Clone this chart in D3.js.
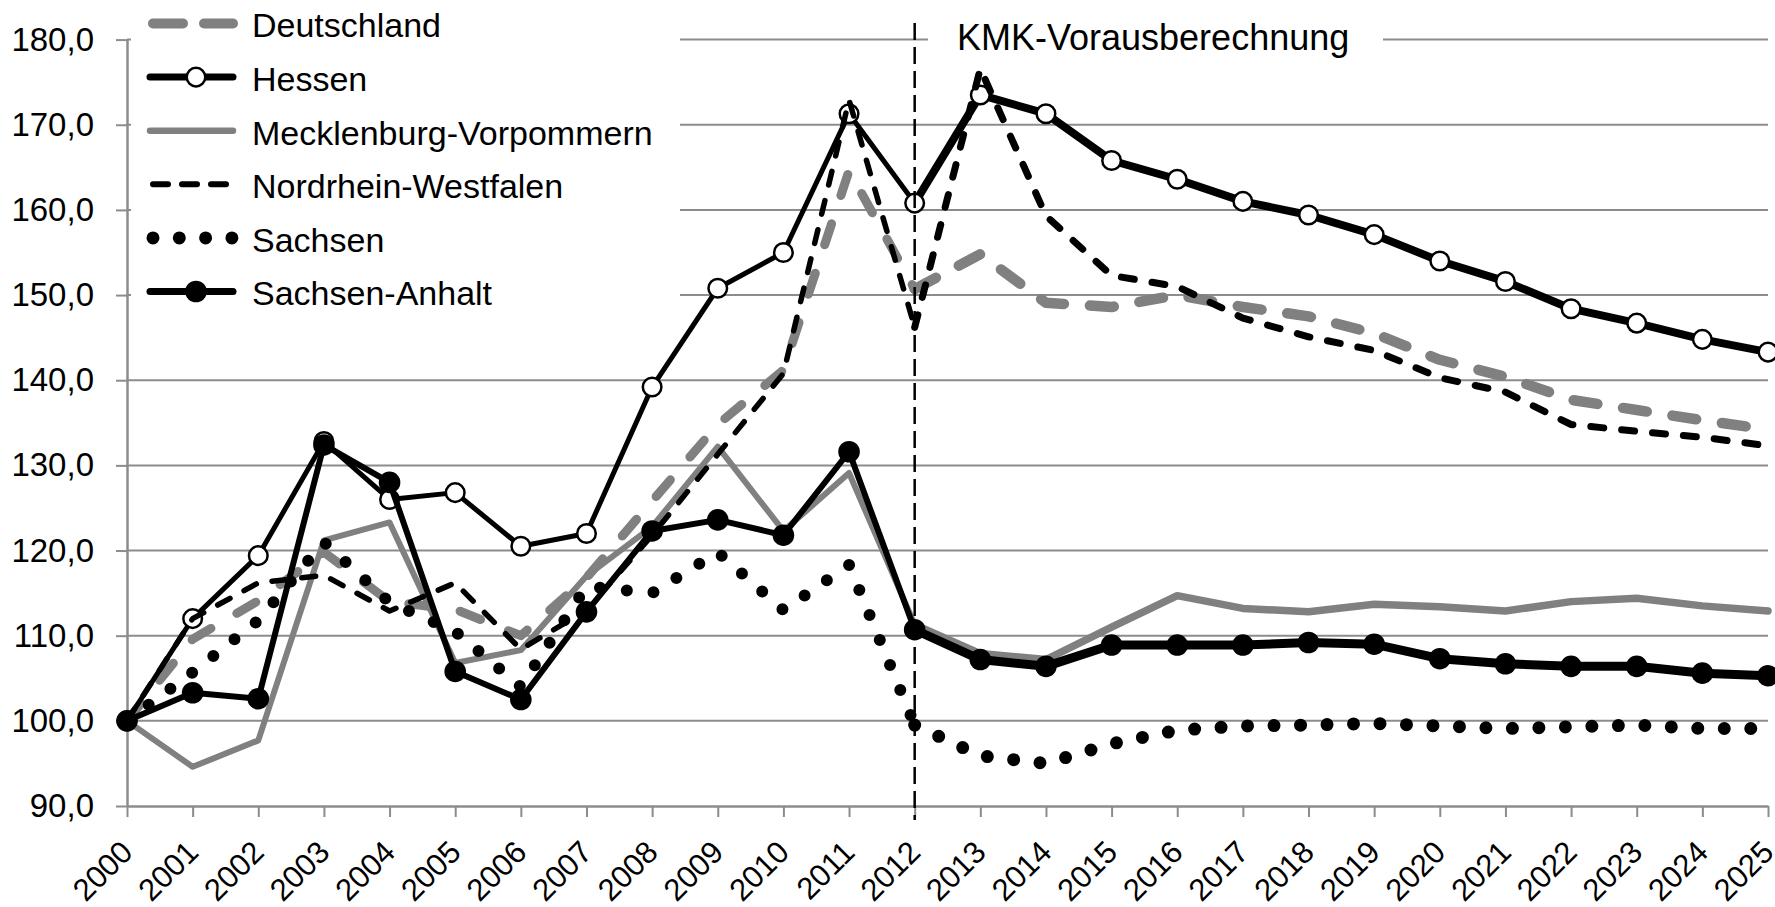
<!DOCTYPE html>
<html>
<head>
<meta charset="utf-8">
<script src="https://cdnjs.cloudflare.com/ajax/libs/d3/7.8.5/d3.min.js"></script>
<style>
body { margin: 0; background: #fff; }
svg { display: block; font-family: "Liberation Sans", Arial, sans-serif; }
</style>
</head>
<body>
<div id="chart"></div>
<script>
// categories / ticks
var years = [2000, 2001, 2002, 2003, 2004, 2005, 2006, 2007, 2008, 2009, 2010, 2011, 2012,
             2013, 2014, 2015, 2016, 2017, 2018, 2019, 2020, 2021, 2022, 2023, 2024, 2025];
var yTicks = [90, 100, 110, 120, 130, 140, 150, 160, 170, 180];
var splitYear = 2012;
var forecastLabel = "KMK-Vorausberechnung";

// series values (index 2000 = 100)
var deutschland = [100, 109.6, 114.1, 119.8, 114.0, 113.1, 110.0, 116.8, 125.8, 134.8, 141.2, 164.6, 150.7,
                   154.8, 149.1, 148.6, 150.0, 148.6, 147.5, 145.5, 142.4, 140.4, 137.7, 136.5, 135.3, 134.2];
var hessen = [100, 112.0, 119.4, 132.8, 126.0, 126.8, 120.5, 122.0, 139.2, 150.8, 155.0, 171.3, 160.8,
              173.5, 171.3, 165.8, 163.6, 161.0, 159.4, 157.1, 154.0, 151.6, 148.4, 146.7, 144.8, 143.3];
var mecklenburg = [100, 94.6, 97.7, 121.2, 123.3, 106.8, 108.3, 117.0, 122.8, 132.2, 122.3, 129.1, 111.3,
                   107.9, 107.2, 111.0, 114.7, 113.2, 112.8, 113.7, 113.4, 112.9, 114.0, 114.4, 113.5, 112.9];
var nrw = [100, 112.0, 116.2, 117.1, 112.9, 116.2, 108.4, 113.0, 121.8, 131.3, 140.8, 172.9, 146.2,
           176.6, 159.3, 152.3, 151.0, 147.3, 145.1, 143.5, 140.3, 138.6, 134.8, 134.0, 133.3, 132.3];
var sachsen = [100, 105.7, 111.8, 121.0, 113.9, 110.5, 104.0, 115.8, 115.0, 119.8, 113.0, 118.3, 99.5,
               95.9, 95.0, 97.3, 98.9, 99.4, 99.5, 99.7, 99.4, 99.1, 99.3, 99.5, 99.1, 99.1];
var sachsenAnhalt = [100, 103.3, 102.6, 132.4, 128.0, 105.8, 102.5, 112.8, 122.3, 123.6, 121.8, 131.6, 110.7,
                     107.2, 106.4, 108.9, 108.9, 108.9, 109.2, 109.0, 107.3, 106.7, 106.4, 106.4, 105.6, 105.3];

var seriesNames = ["Deutschland", "Hessen", "Mecklenburg-Vorpommern", "Nordrhein-Westfalen", "Sachsen", "Sachsen-Anhalt"];
var seriesValues = [deutschland, hessen, mecklenburg, nrw, sachsen, sachsenAnhalt];

// look of each series: [width before 2012, width after], dash patterns, marker
var gray = "#808080";
var gridColor = "#8c8c8c";
var styles = [
    {color: gray,   w: [9, 10.5], dash: ["22,30", "24,26"], legendDash: "30,21", legendW: 10, marker: null},
    {color: "#000", w: [5, 8],    dash: [null, null],       legendDash: null,    legendW: 7,  marker: "open"},
    {color: gray,   w: [6, 7.5],  dash: [null, null],       legendDash: null,    legendW: 6.5, marker: null},
    {color: "#000", w: [5.5, 7],  dash: ["14,16", "13,18"], legendDash: "15,14", legendW: 6,  marker: null},
    {color: "#000", w: [12, 13],  dash: ["0,27", "0,26.5"], legendDash: "0,26.3", legendW: 13, marker: null},
    {color: "#000", w: [6, 9],    dash: [null, null],       legendDash: null,    legendW: 7,  marker: "filled"}
];

var W = 1775, H = 907;
var x = d3.scaleLinear().domain([2000, 2025]).range([127, 1768]);
var y = d3.scaleLinear().domain([90, 180]).range([806, 39.6]);

var svg = d3.select("#chart").append("svg").attr("width", W).attr("height", H);
svg.append("rect").attr("width", W).attr("height", H).attr("fill", "#fff");

// horizontal gridlines
svg.append("g").selectAll("line").data(yTicks.slice(1)).enter().append("line")
    .attr("x1", x(2000)).attr("x2", x(2025))
    .attr("y1", function(d) { return y(d); }).attr("y2", function(d) { return y(d); })
    .attr("stroke", gridColor).attr("stroke-width", 2);

// white boxes behind legend and forecast label (they hide the gridlines)
svg.append("rect").attr("x", 131).attr("y", 0).attr("width", 549).attr("height", 312).attr("fill", "#fff");
svg.append("rect").attr("x", 928).attr("y", 0).attr("width", 455).attr("height", 62).attr("fill", "#fff");

// y axis
var yAxis = d3.axisLeft(y).tickValues(yTicks).tickSize(11).tickSizeOuter(0)
    .tickFormat(function(d) { return d3.format(".1f")(d).replace(".", ","); });
var gy = svg.append("g").attr("transform", "translate(" + x(2000) + ",0)").call(yAxis);
gy.attr("font-family", null).attr("font-size", 33);
gy.select(".domain").attr("stroke", gridColor).attr("stroke-width", 2.5);
gy.selectAll(".tick line").attr("stroke", gridColor).attr("stroke-width", 2);
gy.selectAll(".tick text").attr("x", -33).attr("fill", "#000");

// x axis
var xAxis = d3.axisBottom(x).tickValues(years).tickSize(11).tickSizeOuter(0).tickFormat(d3.format("d"));
var gx = svg.append("g").attr("transform", "translate(0," + y(90) + ")").call(xAxis);
gx.attr("font-family", null).attr("font-size", 31);
gx.select(".domain").attr("stroke", gridColor).attr("stroke-width", 2.5);
gx.selectAll(".tick line").attr("stroke", gridColor).attr("stroke-width", 2);
gx.selectAll(".tick text")
    .attr("x", 0).attr("y", 0).attr("dy", null)
    .attr("text-anchor", "end").attr("fill", "#000")
    .attr("transform", "translate(7,48) rotate(-45)");

// series
var line = d3.line()
    .x(function(d) { return x(d[0]); })
    .y(function(d) { return y(d[1]); });

function drawSeries(values, st) {
    var pts = d3.zip(years, values);
    var k = years.indexOf(splitYear);
    var parts = [pts.slice(0, k + 1), pts.slice(k)];
    var g = svg.append("g");
    parts.forEach(function(p, i) {
        g.append("path").datum(p)
            .attr("d", line)
            .attr("fill", "none")
            .attr("stroke", st.color)
            .attr("stroke-width", st.w[i])
            .attr("stroke-linejoin", "round")
            .attr("stroke-linecap", "round")
            .attr("stroke-dasharray", st.dash[i]);
    });
    if (st.marker) {
        g.selectAll("circle").data(pts).enter().append("circle")
            .attr("cx", function(d) { return x(d[0]); })
            .attr("cy", function(d) { return y(d[1]); })
            .attr("r", st.marker == "open" ? 9.3 : 10.8)
            .attr("fill", st.marker == "open" ? "#fff" : "#000")
            .attr("stroke", "#000")
            .attr("stroke-width", st.marker == "open" ? 2.5 : 0);
    }
}

seriesValues.forEach(function(v, i) { drawSeries(v, styles[i]); });

// forecast divider and label
svg.append("line")
    .attr("x1", x(splitYear)).attr("x2", x(splitYear))
    .attr("y1", 23).attr("y2", 820)
    .attr("stroke", "#000").attr("stroke-width", 2.5)
    .attr("stroke-dasharray", "17,7");
svg.append("text").attr("x", 957).attr("y", 50)
    .attr("font-size", 36).text(forecastLabel);

// legend
var legend = svg.append("g").selectAll("g.item").data(seriesNames)
    .enter().append("g")
    .attr("class", "item")
    .attr("transform", function(d, i) { return "translate(0," + (23.5 + i * 53.6) + ")"; });

legend.append("line")
    .attr("x1", function(d, i) { return styles[i].legendDash ? 153 : 150; })
    .attr("x2", 233)
    .attr("stroke", function(d, i) { return styles[i].color; })
    .attr("stroke-width", function(d, i) { return styles[i].legendW; })
    .attr("stroke-linecap", "round")
    .attr("stroke-dasharray", function(d, i) { return styles[i].legendDash; });

legend.filter(function(d, i) { return styles[i].marker; }).append("circle")
    .attr("cx", 196).attr("cy", 0)
    .attr("r", function(d) { return d == "Hessen" ? 9.3 : 10.8; })
    .attr("fill", function(d) { return d == "Hessen" ? "#fff" : "#000"; })
    .attr("stroke", "#000")
    .attr("stroke-width", function(d) { return d == "Hessen" ? 2.5 : 0; });

legend.append("text")
    .attr("x", 252).attr("y", 2).attr("dy", "0.35em")
    .attr("font-size", 34)
    .text(function(d) { return d; });
</script>
</body>
</html>
